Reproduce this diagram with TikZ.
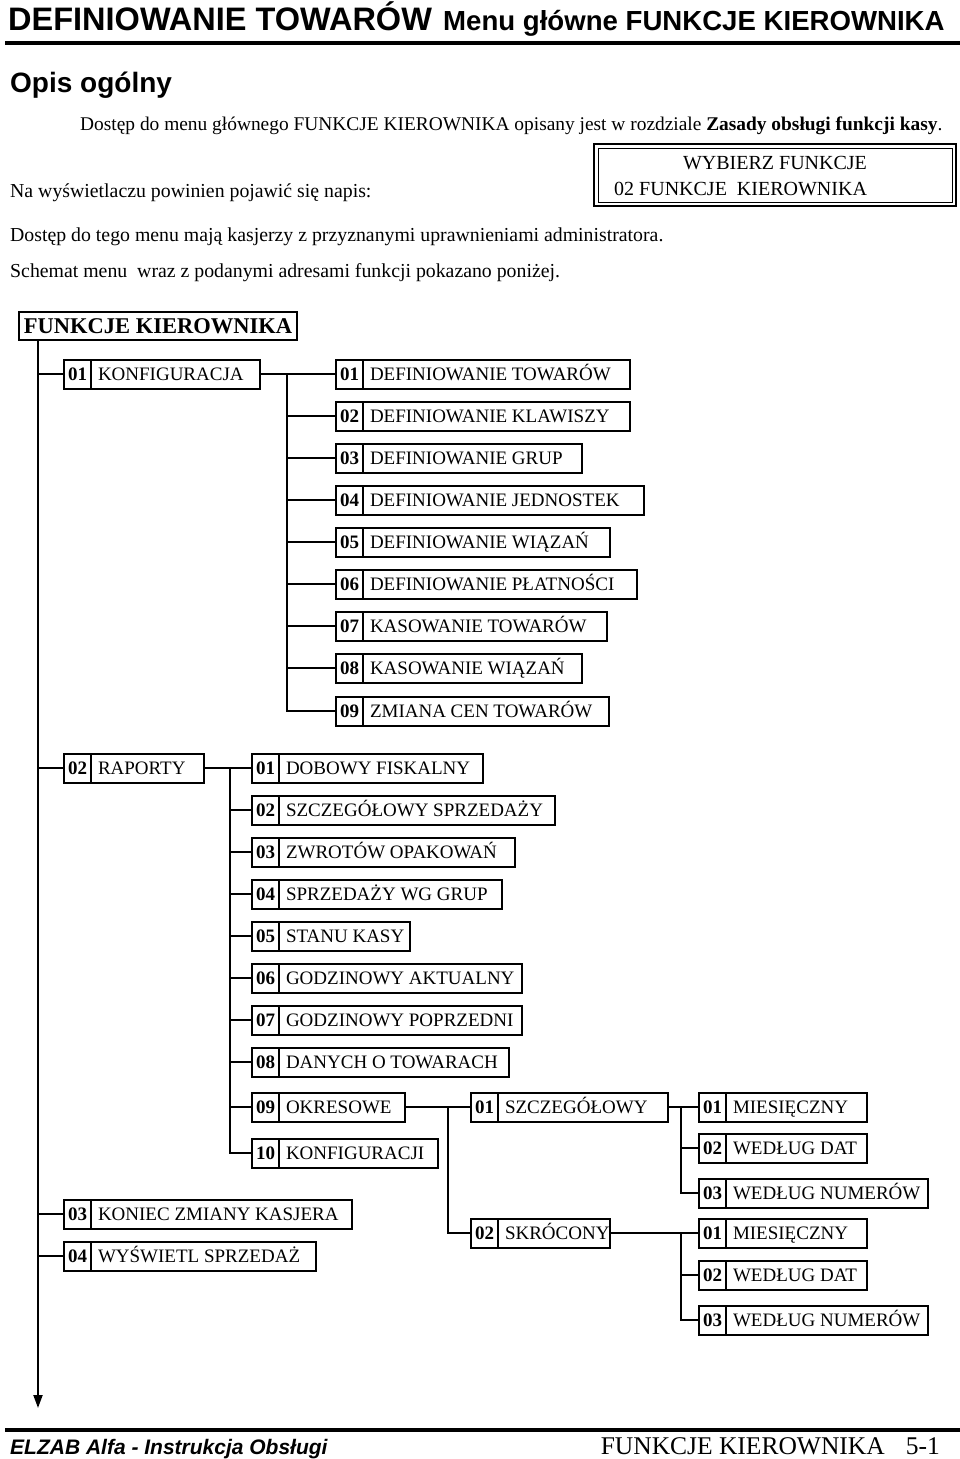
\documentclass[tikz,border=0pt]{standalone}
\usepackage{fontspec}
\setmainfont{Liberation Serif}
\setsansfont{Liberation Sans}
\usetikzlibrary{arrows.meta}
\newcommand\boxfont{\fontsize{19}{19}\selectfont}
\newcommand\menubox[6]{%
  \pgfmathsetmacro\mbw{#4-#2-27-14}%
  \node[numcell] (#1n) at (#2,#3) {#5};
  \node[labcell] (#1) at (#1n.east) {\makebox[\mbw pt][l]{#6}};
}
\tikzset{
  conn/.style={line width=2pt},
  numcell/.style={draw,line width=2pt,anchor=west,minimum width=27pt,minimum height=29pt,
    inner sep=0pt,outer sep=0pt,font=\bfseries\boxfont,text height=12.5pt,text depth=0pt},
  labcell/.style={draw,line width=2pt,anchor=west,minimum height=29pt,inner xsep=7pt,
    inner ysep=0pt,outer sep=0pt,font=\boxfont,text height=12.5pt,text depth=0pt},
  body/.style={anchor=base west,inner sep=0pt,font=\fontsize{19.8}{22}\selectfont},
  rootbox/.style={draw,line width=2pt,minimum width=278pt,minimum height=28pt,inner sep=0pt,
    outer sep=0pt,font=\bfseries\fontsize{22.5}{22.5}\selectfont,text height=14.5pt,text depth=0pt},
  rule/.style={line width=4.5pt}
}
\begin{document}
\begin{tikzpicture}[x=1pt,y=-1pt]
\useasboundingbox (0,0) rectangle (960,1459);
% header
\node[anchor=base west,inner sep=0pt,font=\sffamily\bfseries\fontsize{32.5}{32.5}\selectfont] (title) at (8,30) {DEFINIOWANIE TOWARÓW};
\node[anchor=base west,inner sep=0pt,font=\sffamily\bfseries\fontsize{27.6}{27.6}\selectfont] (subtitle) at (443,30) {Menu główne FUNKCJE KIEROWNIKA};
\coordinate (hrA) at (5,43);
\coordinate (hrB) at (960,43);
\draw[rule] (hrA) -- (hrB);
\node[anchor=base west,inner sep=0pt,font=\sffamily\bfseries\fontsize{28}{28}\selectfont] (opis) at (10,92) {Opis ogólny};
% body text
\node[body,font=\fontsize{19.4}{22}\selectfont] (t1) at (80,130) {Dostęp do menu głównego FUNKCJE KIEROWNIKA opisany jest w rozdziale \textbf{Zasady obsługi funkcji kasy}.};
\node[body] (t2) at (10,197) {Na wyświetlaczu powinien pojawić się napis:};
\node[body] (t3) at (10,241) {Dostęp do tego menu mają kasjerzy z przyznanymi uprawnieniami administratora.};
\node[body] (t4) at (10,277) {Schemat menu\ \ wraz z podanymi adresami funkcji pokazano poniżej.};
% display box
\draw[line width=2pt] (594,144) rectangle (956,206);
\draw[line width=1pt] (598,148) rectangle (952,202);
\node[anchor=base,inner sep=0pt,font=\fontsize{20}{20}\selectfont] (d1) at (775,169) {WYBIERZ FUNKCJE};
\node[anchor=base west,inner sep=0pt,font=\fontsize{20}{20}\selectfont] (d2) at (614,195) {02 FUNKCJE\ \ KIEROWNIKA};
% root
\node[rootbox] (root) at (158,326) {FUNKCJE KIEROWNIKA};
\coordinate (trunktop) at (38,340);
\coordinate (trunkend) at (38,1408);
\draw[conn,-{Triangle[width=9pt,length=13pt]}] (trunktop) -- (trunkend);
% level 1
\menubox{m1}{64}{374}{260}{01}{KONFIGURACJA}
\menubox{m2}{64}{768}{204}{02}{RAPORTY}
\menubox{m3}{64}{1214}{352}{03}{KONIEC ZMIANY KASJERA}
\menubox{m4}{64}{1256}{316}{04}{WYŚWIETL SPRZEDAŻ}
\foreach \n in {m1,m2,m3,m4} \draw[conn] (trunktop |- \n n.west) -- (\n n.west);
% KONFIGURACJA
\menubox{k1}{336}{374}{630}{01}{DEFINIOWANIE TOWARÓW}
\menubox{k2}{336}{416}{630}{02}{DEFINIOWANIE KLAWISZY}
\menubox{k3}{336}{458}{582}{03}{DEFINIOWANIE GRUP}
\menubox{k4}{336}{500}{644}{04}{DEFINIOWANIE JEDNOSTEK}
\menubox{k5}{336}{542}{610}{05}{DEFINIOWANIE WIĄZAŃ}
\menubox{k6}{336}{584}{637}{06}{DEFINIOWANIE PŁATNOŚCI}
\menubox{k7}{336}{626}{607}{07}{KASOWANIE TOWARÓW}
\menubox{k8}{336}{668}{582}{08}{KASOWANIE WIĄZAŃ}
\menubox{k9}{336}{711}{609}{09}{ZMIANA CEN TOWARÓW}
\coordinate (kx) at (287,374);
\draw[conn] (m1.east) -- (k1n.west);
\draw[conn] (kx) |- (k9n.west);
\foreach \n in {k2,k3,k4,k5,k6,k7,k8} \draw[conn] (kx |- \n n.west) -- (\n n.west);
% RAPORTY
\menubox{r1}{252}{768}{483}{01}{DOBOWY FISKALNY}
\menubox{r2}{252}{810}{555}{02}{SZCZEGÓŁOWY SPRZEDAŻY}
\menubox{r3}{252}{852}{515}{03}{ZWROTÓW OPAKOWAŃ}
\menubox{r4}{252}{894}{502}{04}{SPRZEDAŻY WG GRUP}
\menubox{r5}{252}{936}{410}{05}{STANU KASY}
\menubox{r6}{252}{978}{522}{06}{GODZINOWY AKTUALNY}
\menubox{r7}{252}{1020}{522}{07}{GODZINOWY POPRZEDNI}
\menubox{r8}{252}{1062}{509}{08}{DANYCH O TOWARACH}
\menubox{r9}{252}{1107}{405}{09}{OKRESOWE}
\menubox{r10}{252}{1153}{438}{10}{KONFIGURACJI}
\coordinate (rx) at (230,768);
\draw[conn] (m2.east) -- (r1n.west);
\draw[conn] (rx) |- (r10n.west);
\foreach \n in {r2,r3,r4,r5,r6,r7,r8,r9} \draw[conn] (rx |- \n n.west) -- (\n n.west);
% OKRESOWE
\menubox{o1}{471}{1107}{668}{01}{SZCZEGÓŁOWY}
\menubox{o2}{471}{1233}{610}{02}{SKRÓCONY}
\coordinate (ox) at (448,1107);
\draw[conn] (r9.east) -- (o1n.west);
\draw[conn] (ox) |- (o2n.west);
% SZCZEGOLOWY
\menubox{s1}{699}{1107}{867}{01}{MIESIĘCZNY}
\menubox{s2}{699}{1148}{867}{02}{WEDŁUG DAT}
\menubox{s3}{699}{1193}{928}{03}{WEDŁUG NUMERÓW}
\coordinate (sx) at (681,1107);
\draw[conn] (o1.east) -- (s1n.west);
\draw[conn] (sx) |- (s3n.west);
\draw[conn] (sx |- s2n.west) -- (s2n.west);
% SKROCONY
\menubox{c1}{699}{1233}{867}{01}{MIESIĘCZNY}
\menubox{c2}{699}{1275}{867}{02}{WEDŁUG DAT}
\menubox{c3}{699}{1320}{928}{03}{WEDŁUG NUMERÓW}
\coordinate (cx) at (681,1233);
\draw[conn] (o2.east) -- (c1n.west);
\draw[conn] (cx) |- (c3n.west);
\draw[conn] (cx |- c2n.west) -- (c2n.west);
% footer
\coordinate (frA) at (5,1430);
\coordinate (frB) at (960,1430);
\draw[line width=4pt] (frA) -- (frB);
\node[anchor=base west,inner sep=0pt,font=\sffamily\bfseries\itshape\fontsize{21}{21}\selectfont] (foot1) at (10,1454) {ELZAB Alfa - Instrukcja Obsługi};
\node[anchor=base east,inner sep=0pt,font=\fontsize{25.5}{25.5}\selectfont] (foot2) at (885,1454) {FUNKCJE KIEROWNIKA};
\node[anchor=base east,inner sep=0pt,font=\fontsize{25.5}{25.5}\selectfont] (foot3) at (940,1454) {5-1};
\end{tikzpicture}
\end{document}
